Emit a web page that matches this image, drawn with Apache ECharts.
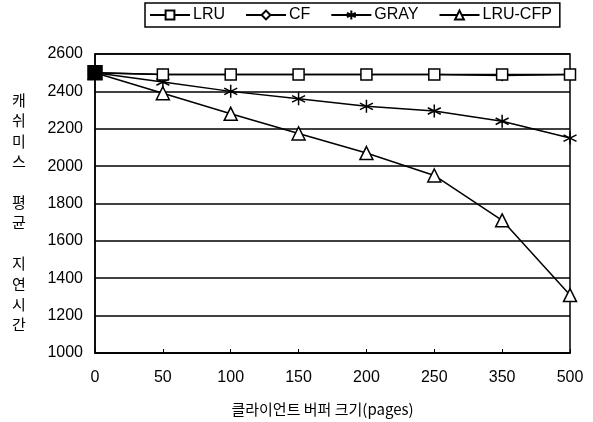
<!DOCTYPE html>
<html><head><meta charset="utf-8">
<script src="https://cdn.jsdelivr.net/npm/echarts@6/dist/echarts.min.js"></script>
<style>html,body{margin:0;padding:0;background:#fff}#c{width:593px;height:422px}</style>
</head><body><div id="c"></div>
<script>
const categories = ['0','50','100','150','200','250','350','500'];
const lru    = [2500, 2490, 2490, 2490, 2490, 2490, 2490, 2490];
const cf     = [2500, 2490, 2490, 2490, 2490, 2490, 2485, 2490];
const gray   = [2500, 2450, 2400, 2360, 2320, 2295, 2240, 2150];
const lrucfp = [2500, 2390, 2280, 2175, 2070, 1950, 1710, 1310];
const yTicks = [1000, 1200, 1400, 1600, 1800, 2000, 2200, 2400, 2600];
const seriesNames = ['LRU', 'CF', 'GRAY', 'LRU-CFP'];
const yTitle = '캐\n쉬\n미\n스\n\n평\n균\n\n지\n연\n시\n간';
const xTitle = '클라이언트 버퍼 크기(pages)';

const star = 'path://M0,-10L0,10M-8.66,-5L8.66,5M-8.66,5L8.66,-5';
const symbols = ['rect', 'diamond', star, 'triangle'];
const sizes = [11, 10, 13, 13];
const values = [lru, cf, gray, lrucfp];
const font = 'Liberation Sans, Arial, sans-serif';

const chart = echarts.init(document.getElementById('c'));
chart.setOption({
  animation: false,
  backgroundColor: '#fff',
  textStyle: {fontFamily: font, color: '#000'},
  legend: {
    data: seriesNames,
    left: 145, top: 3,
    borderColor: '#000', borderWidth: 1.5,
    padding: [4, 8, 4, 4],
    itemWidth: 40, itemHeight: 11, itemGap: 20,
    textStyle: {fontSize: 16, color: '#000', fontFamily: font, padding: [0, 0, 0, -2]}
  },
  grid: {left: 95, right: 23, top: 54, bottom: 69, show: true, borderColor: '#000', borderWidth: 1.5},
  xAxis: {
    type: 'category', data: categories, boundaryGap: false,
    axisLine: {lineStyle: {color: '#000', width: 1.5}},
    axisTick: {inside: true, length: 4, lineStyle: {color: '#000'}},
    axisLabel: {fontSize: 16, color: '#000', margin: 17},
    name: xTitle, nameLocation: 'middle', nameGap: 49,
    nameTextStyle: {fontSize: 15, color: '#000', fontFamily: 'Noto Sans CJK KR', padding: [0, 20, 0, 0]}
  },
  yAxis: {
    type: 'value', min: yTicks[0], max: yTicks[yTicks.length - 1], interval: 200,
    axisLine: {show: true, lineStyle: {color: '#000', width: 1.5}},
    axisTick: {show: false},
    axisLabel: {fontSize: 16, color: '#000', margin: 12, formatter: v => String(v)},
    splitLine: {lineStyle: {color: '#000', width: 1.5}}
  },
  graphic: [{
    type: 'text', left: 12, top: 90,
    style: {text: yTitle, fontSize: 15, lineHeight: 20.4, fill: '#000', fontFamily: 'Noto Sans CJK KR'}
  }],
  series: seriesNames.map((n, i) => ({
    name: n, type: 'line', symbol: symbols[i], symbolSize: sizes[i],
    showAllSymbol: true,
    lineStyle: {color: '#000', width: 1.5},
    itemStyle: {color: i === 2 ? '#000' : '#fff', borderColor: '#000', borderWidth: 1.5},
    data: values[i].map((v, j) => (i === 0 && j === 0) ? {value: v, symbol: 'rect', symbolSize: 14, itemStyle: {color: '#000'}} : v),
    z: 10 - i
  }))
});
</script></body></html>
